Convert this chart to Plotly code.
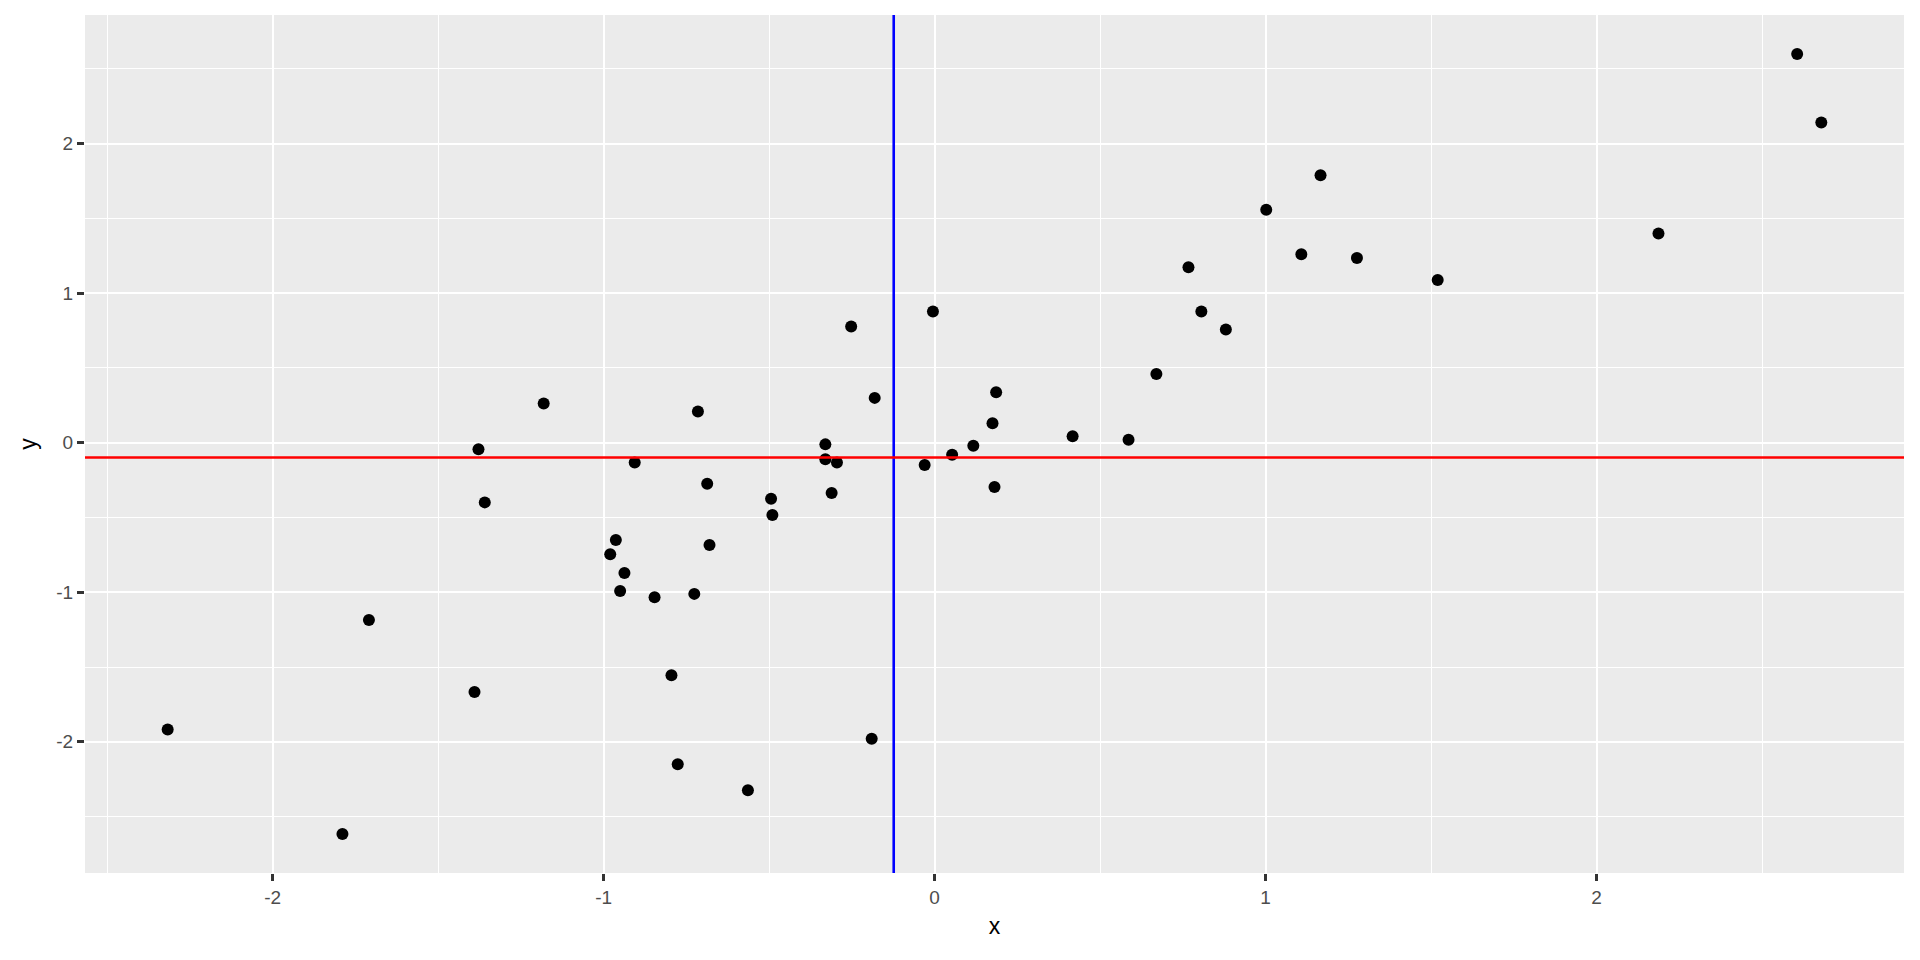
import plotly.graph_objects as go
import numpy as np

x_vals = [-2.317, -1.789, -1.709, -1.390, -1.378, -1.359, -1.181, -0.980, -0.963, -0.950,
          -0.937, -0.906, -0.846, -0.795, -0.776, -0.726, -0.715, -0.687, -0.680, -0.564,
          -0.494, -0.490, -0.330, -0.330, -0.311, -0.295, -0.252, -0.190, -0.181, -0.030,
          -0.005, 0.053, 0.117, 0.175, 0.181, 0.186, 0.417, 0.586, 0.670, 0.767,
          0.806, 0.880, 1.002, 1.108, 1.166, 1.276, 1.520, 2.187, 2.606, 2.679]
y_vals = [-1.918, -2.617, -1.185, -1.668, -0.044, -0.399, 0.262, -0.746, -0.650, -0.991,
          -0.871, -0.133, -1.033, -1.555, -2.151, -1.011, 0.209, -0.274, -0.684, -2.325,
          -0.374, -0.483, -0.011, -0.111, -0.336, -0.133, 0.778, -1.980, 0.300, -0.149,
          0.878, -0.080, -0.020, 0.131, -0.296, 0.338, 0.044, 0.020, 0.460, 1.173,
          0.878, 0.758, 1.558, 1.260, 1.789, 1.236, 1.089, 1.400, 2.600, 2.142]

x_ticks = [-2, -1, 0, 1, 2]
x_tick_labels = ["-2", "-1", "0", "1", "2"]
y_ticks = [-2, -1, 0, 1, 2]
y_tick_labels = ["-2", "-1", "0", "1", "2"]

x_mean = float(np.mean(x_vals))
y_mean = float(np.mean(y_vals))


def expand(vals, f=0.05):
    lo, hi = min(vals), max(vals)
    s = hi - lo
    return [lo - f * s, hi + f * s]


xr = expand(x_vals)
yr = expand(y_vals)

FONT = "Liberation Sans, Arial, sans-serif"

fig = go.Figure()
fig.add_trace(go.Scatter(x=x_vals, y=y_vals, mode="markers",
                         marker=dict(color="black", size=12, line=dict(width=0)),
                         showlegend=False, hoverinfo="x+y"))

fig.add_shape(type="line", xref="x", yref="paper", x0=x_mean, x1=x_mean, y0=0, y1=1,
              line=dict(color="#0000FF", width=2.6), layer="above")
fig.add_shape(type="line", xref="paper", yref="y", x0=0, x1=1, y0=y_mean, y1=y_mean,
              line=dict(color="#FF0000", width=2.6), layer="above")

axis_common = dict(
    showgrid=True, gridcolor="white", gridwidth=2.4,
    zeroline=False, showline=False,
    ticks="outside", ticklen=7, tickwidth=2.5, tickcolor="#333333",
    tickfont=dict(family=FONT, size=19, color="#4D4D4D"),
    minor=dict(dtick=0.5, tick0=0, showgrid=True, gridcolor="white", gridwidth=1.2, ticks=""),
)

fig.update_layout(
    width=1904, height=944,
    margin=dict(l=77, r=7.5, t=6.7, b=78.7, autoexpand=False),
    paper_bgcolor="white", plot_bgcolor="#EBEBEB",
    font=dict(family=FONT),
    xaxis=dict(range=xr, tickmode="array", tickvals=x_ticks, ticktext=x_tick_labels,
               title=dict(text="x", font=dict(family=FONT, size=23, color="black"), standoff=11),
               **axis_common),
    yaxis=dict(range=yr, tickmode="array", tickvals=y_ticks, ticktext=y_tick_labels,
               title=dict(text="y", font=dict(family=FONT, size=23, color="black"), standoff=13),
               **axis_common),
)

fig.write_html("out.html")
